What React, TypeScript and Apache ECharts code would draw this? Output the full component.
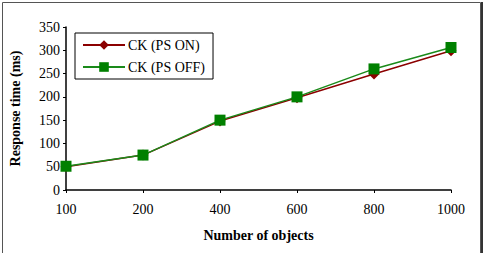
import React, { useEffect, useRef } from "react";
import * as echarts from "echarts";

const categories = ["100", "200", "400", "600", "800", "1000"];
const psOn = [50, 75, 148, 198, 249, 299];
const psOff = [51, 75, 150, 200, 260, 306];

const FONT = "Liberation Serif";

export default function App() {
  const ref = useRef<HTMLDivElement>(null);

  useEffect(() => {
    if (!ref.current) return;
    const chart = echarts.init(ref.current, undefined, { renderer: "svg" });
    chart.setOption({
      animation: false,
      backgroundColor: "#ffffff",
      textStyle: { fontFamily: FONT },
      graphic: [
        {
          type: "rect",
          shape: { x: 2.5, y: 2.5, width: 478, height: 260 },
          style: { fill: "none", stroke: "#555", lineWidth: 1 },
        },
        {
          type: "line",
          shape: { x1: 482, y1: 2, x2: 482, y2: 253 },
          style: { stroke: "#333", lineWidth: 2 },
        },
      ],
      grid: { left: 66, right: 34, top: 27, bottom: 63 },
      legend: {
        orient: "vertical",
        left: 75,
        top: 33,
        padding: [5, 8, 5, 7],
        itemGap: 8,
        itemWidth: 42,
        itemHeight: 12,
        borderColor: "#000",
        borderWidth: 1,
        textStyle: { fontFamily: FONT, fontSize: 14, color: "#000", padding: [0, 0, 0, -2] },
        data: ["CK (PS ON)", "CK (PS OFF)"],
      },
      xAxis: {
        type: "category",
        data: categories,
        boundaryGap: false,
        name: "Number of objects",
        nameLocation: "middle",
        nameGap: 38,
        nameTextStyle: { fontFamily: FONT, fontSize: 14, fontWeight: "bold", color: "#000" },
        axisLine: { lineStyle: { color: "#000", width: 1.5 } },
        axisTick: { show: true, length: 3, lineStyle: { color: "#000" } },
        axisLabel: { fontFamily: FONT, fontSize: 14, color: "#000", margin: 12 },
      },
      yAxis: {
        type: "value",
        min: 0,
        max: 350,
        interval: 50,
        name: "Response time (ms)",
        nameLocation: "middle",
        nameGap: 44,
        nameTextStyle: { fontFamily: FONT, fontSize: 14, fontWeight: "bold", color: "#000" },
        axisLine: { show: true, lineStyle: { color: "#000", width: 1.5 } },
        axisTick: { show: true, length: 3, lineStyle: { color: "#000" } },
        splitLine: { show: false },
        axisLabel: { fontFamily: FONT, fontSize: 14, color: "#000", margin: 6 },
      },
      series: [
        {
          name: "CK (PS ON)",
          type: "line",
          data: psOn,
          symbol: "diamond",
          symbolSize: 11,
          itemStyle: { color: "#8b0000" },
          lineStyle: { color: "#8b0000", width: 1.5 },
        },
        {
          name: "CK (PS OFF)",
          type: "line",
          data: psOff,
          symbol: "rect",
          symbolSize: 11,
          itemStyle: { color: "#008000" },
          lineStyle: { color: "#1a8a1a", width: 1.5 },
        },
      ],
    });
    return () => chart.dispose();
  }, []);

  return <div ref={ref} style={{ width: 485, height: 253, position: "absolute", left: 0, top: 0 }} />;
}
